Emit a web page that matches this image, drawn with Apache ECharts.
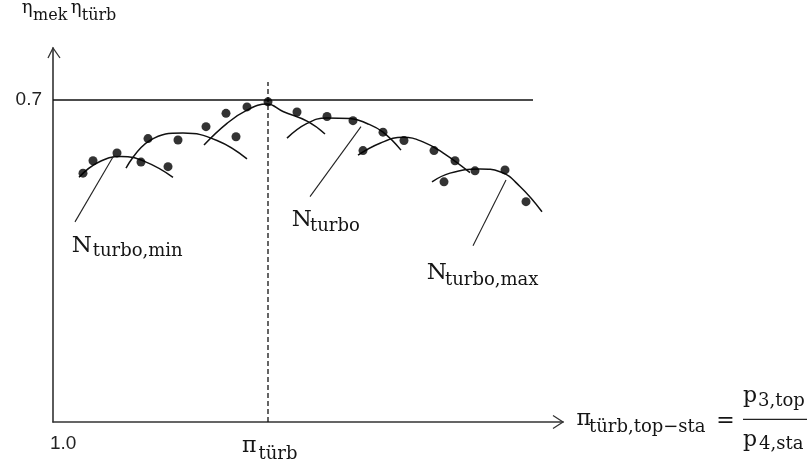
<!DOCTYPE html>
<html><head><meta charset="utf-8">
<script src="https://cdn.jsdelivr.net/npm/echarts@6/dist/echarts.min.js"></script>
<style>html,body{margin:0;padding:0;background:#fff}#c{width:811px;height:468px}</style>
</head><body><div id="c"></div>
<script>
// ---- data ----
const xTickLabel = '1.0';
const yTickLabel = '0.7';
const xMin = 1.0, xMax = 6.1;
const yMin = 0, yMax = 0.813;
const refLevel = 0.7;                 // horizontal line
const refLineX = [1.0, 5.8];
const piTurb = 3.15;                  // dashed vertical
const dashedY = [0, 0.739];

const dotsX = [1.30,1.40,1.64,1.88,2.15,1.95,2.25,2.53,2.73,2.83,2.94,3.15,3.44,3.74,4.00,4.30,4.51,4.10,4.81,5.02,5.22,4.91,5.52,5.73];
const dotsY = [0.541,0.568,0.585,0.565,0.555,0.616,0.613,0.642,0.671,0.620,0.685,0.696,0.674,0.664,0.655,0.630,0.612,0.590,0.590,0.568,0.546,0.522,0.548,0.479];

const curve1 = [[1.26,0.532],[1.45,0.564],[1.68,0.577],[1.92,0.566],[2.20,0.532]];
const curve2 = [[1.73,0.552],[1.97,0.612],[2.30,0.628],[2.64,0.612],[2.94,0.572]];
const curve3 = [[2.51,0.602],[2.74,0.649],[2.94,0.678],[3.14,0.691],[3.30,0.675],[3.55,0.653],[3.72,0.626]];
const curve4 = [[3.34,0.617],[3.54,0.649],[3.74,0.661],[3.97,0.660],[4.14,0.649],[4.30,0.630],[4.48,0.591]];
const curve5 = [[4.05,0.580],[4.27,0.606],[4.50,0.619],[4.70,0.609],[4.90,0.585],[5.17,0.542]];
const curve6 = [[4.79,0.522],[4.97,0.541],[5.27,0.550],[5.47,0.544],[5.67,0.512],[5.89,0.457]];

const leaderMin = [[1.22,0.435],[1.61,0.580]];
const leaderMid = [[3.57,0.490],[4.08,0.642]];
const leaderMax = [[5.20,0.383],[5.53,0.526]];

// ---- chart ----
const chart = echarts.init(document.getElementById('c'), null, {renderer:'canvas'});
const ink = '#151515';
const serif = '"DejaVu Serif", serif';

function curveSeries(d){
  return {type:'line', data:d, smooth:0.45, symbol:'none', silent:true,
    lineStyle:{color:'#111', width:1.5}};
}
function leaderSeries(d){
  return {type:'line', data:d, symbol:'none', silent:true,
    lineStyle:{color:'#222', width:1.1}};
}

chart.setOption({
  animation:false,
  grid:{left:53, right:248, top:48, bottom:46},
  xAxis:{type:'value', min:xMin, max:xMax, interval:1,
    axisLine:{show:true, onZero:false, lineStyle:{color:'#333', width:1.6}},
    axisTick:{show:false}, splitLine:{show:false},
    axisLabel:{showMaxLabel:false, margin:12, align:'left', padding:[0,0,0,-3],
      fontFamily:'"Liberation Sans", Arial, sans-serif', fontSize:19, color:'#222',
      formatter:v => (Math.abs(v - xMin) < 1e-9 ? xTickLabel : '')}},
  yAxis:{type:'value', min:yMin, max:yMax, interval:0.7,
    axisLine:{show:true, onZero:false, lineStyle:{color:'#333', width:1.6}},
    axisTick:{show:false}, splitLine:{show:false},
    axisLabel:{showMaxLabel:false, margin:11,
      fontFamily:'"Liberation Sans", Arial, sans-serif', fontSize:19, color:'#222',
      formatter:v => (Math.abs(v - refLevel) < 1e-9 ? yTickLabel : '')}},
  series:[
    {type:'line', data:refLineX.map(x=>[x, refLevel]), symbol:'none', silent:true,
      lineStyle:{color:'#111', width:1.6}},
    {type:'line', data:dashedY.map(y=>[piTurb, y]), symbol:'none', silent:true,
      lineStyle:{color:'#111', width:1.3, type:[5,3]}},
    curveSeries(curve1), curveSeries(curve2), curveSeries(curve3),
    curveSeries(curve4), curveSeries(curve5), curveSeries(curve6),
    leaderSeries(leaderMin), leaderSeries(leaderMid), leaderSeries(leaderMax),
    {type:'scatter', data:dotsX.map((x,i)=>[x, dotsY[i]]), symbol:'circle', symbolSize:9,
      itemStyle:{color:'#000'}, silent:true, z:5}
  ]
});

// ---- annotations ----
function txt(x, y, s, size, align){
  return {type:'text', x:x, y:y, silent:true,
    style:{text:s, fill:ink, font:size+'px '+serif, textAlign:align||'left', textVerticalAlign:'middle', verticalAlign:'middle'}};
}
const yTip = chart.convertToPixel({gridIndex:0}, [xMin, yMax]);
const xTip = chart.convertToPixel({gridIndex:0}, [xMax, yMin]);
const piPix = chart.convertToPixel({gridIndex:0}, [piTurb, yMin]);
const arrowStyle = {stroke:'#333', lineWidth:1.3, fill:null};

const g = [
  {type:'polyline', silent:true, shape:{points:[[yTip[0]-5, yTip[1]+10],[yTip[0], yTip[1]],[yTip[0]+7, yTip[1]+10]]}, style:arrowStyle},
  {type:'polyline', silent:true, shape:{points:[[xTip[0]-10, xTip[1]-6.5],[xTip[0], xTip[1]],[xTip[0]-10, xTip[1]+6.5]]}, style:arrowStyle},
  // y-axis title
  txt(21.7, 8.5, 'η', 18), txt(33, 16, 'mek', 16),
  txt(70.7, 8.5, 'η', 18), txt(81.7, 16, 'türb', 16),
  // curve family labels
  txt(71.7, 246, 'N', 23), txt(92.7, 251.6, 'turbo,min', 18),
  txt(291.7, 219.8, 'N', 23), txt(310, 226.3, 'turbo', 18),
  txt(426.7, 273, 'N', 23), txt(445, 280.3, 'turbo,max', 18),
  // pi_turb under dashed line
  txt(piPix[0]-26, 446.7, 'π', 22), txt(piPix[0]-9.5, 453.9, 'türb', 18),
  // x-axis title
  txt(xTip[0]+13.5, 419.4, 'π', 22), txt(xTip[0]+26, 427.3, 'türb,top−sta', 18),
  txt(725.5, 421, '=', 22, 'center'),
  {type:'line', silent:true, shape:{x1:743, y1:419.3, x2:807, y2:419.3}, style:{stroke:'#222', lineWidth:1.2}},
  txt(743, 396.7, 'p', 22), txt(758, 401.3, '3,top', 18),
  txt(743, 440, 'p', 22), txt(759, 444.6, '4,sta', 18)
];
chart.setOption({graphic:g});
</script></body></html>
